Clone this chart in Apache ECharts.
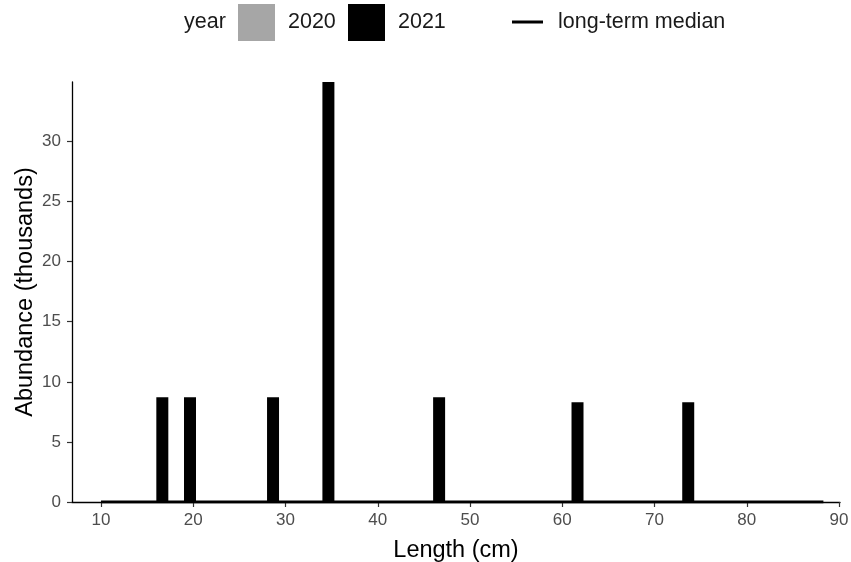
<!DOCTYPE html>
<html>
<head>
<meta charset="utf-8">
<script src="https://cdn.jsdelivr.net/npm/echarts@6/dist/echarts.min.js"></script>
<style>html,body{margin:0;padding:0;background:#fff;}#c{width:851px;height:562px;}</style>
</head>
<body>
<div id="c"></div>
<script>
// Data
const lengths2021 = [16, 19, 28, 34, 46, 61, 73];
const abundance2021 = [8.72, 8.72, 8.72, 34.95, 8.72, 8.30, 8.30];
const medianLengths = [10, 88.3];
const medianValues = [0, 0];
const xTicks = [10, 20, 30, 40, 50, 60, 70, 80, 90];
const yTicks = [0, 5, 10, 15, 20, 25, 30];

const BAR_W = 1.3;
const FONT = '"Liberation Sans", Arial, sans-serif';

const chart = echarts.init(document.getElementById('c'), null, {renderer: 'canvas'});
const barData = lengths2021.map((l, i) => [l, abundance2021[i]]);
const medData = medianLengths.map((l, i) => [l, medianValues[i]]);

chart.setOption({
  backgroundColor: '#fff',
  animation: false,
  grid: {left: 72, right: 11, top: 82, bottom: 60, containLabel: false, outerBoundsMode: 'none'},
  xAxis: {
    type: 'value', min: 6.86, max: 90.1,
    splitLine: {show: false},
    axisLine: {show: true, onZero: false, lineStyle: {color: '#000', width: 1.3}},
    axisTick: {show: true, length: 5, customValues: xTicks, lineStyle: {color: '#333', width: 1.2}},
    axisLabel: {customValues: xTicks, color: '#4d4d4d', fontSize: 17, fontFamily: FONT, margin: 10},
    name: 'Length (cm)', nameLocation: 'middle', nameGap: 37,
    nameTextStyle: {color: '#000', fontSize: 23.5, fontFamily: FONT}
  },
  yAxis: {
    type: 'value', min: 0, max: 34.95,
    splitLine: {show: false},
    axisLine: {show: true, lineStyle: {color: '#000', width: 1.3}},
    axisTick: {show: true, length: 5, customValues: yTicks, lineStyle: {color: '#333', width: 1.2}},
    axisLabel: {customValues: yTicks, color: '#4d4d4d', fontSize: 17, fontFamily: FONT, margin: 11},
    name: 'Abundance (thousands)', nameLocation: 'middle', nameGap: 34, nameMoveOverlap: false,
    nameTextStyle: {color: '#000', fontSize: 23.5, fontFamily: FONT}
  },
  series: [
    {
      name: '2021', type: 'custom', data: barData, clip: true,
      renderItem: function (params, api) {
        const x = api.value(0), y = api.value(1);
        const p0 = api.coord([x, y]);
        const p1 = api.coord([x + BAR_W, 0]);
        return {type: 'rect', shape: {x: p0[0], y: p0[1], width: p1[0] - p0[0], height: p1[1] - p0[1]}, style: {fill: '#000'}};
      },
      encode: {x: 0, y: 1}
    },
    {
      name: 'long-term median', type: 'line', data: medData, symbol: 'none', z: 5,
      lineStyle: {color: '#000', width: 3}
    }
  ],
  graphic: [
    {type: 'text', left: 184, top: 11, style: {text: 'year', fontSize: 21.5, fontFamily: FONT, fill: '#1a1a1a'}},
    {type: 'rect', shape: {x: 238, y: 4, width: 37, height: 37}, style: {fill: '#a6a6a6'}},
    {type: 'text', left: 288, top: 11, style: {text: '2020', fontSize: 21.5, fontFamily: FONT, fill: '#1a1a1a'}},
    {type: 'rect', shape: {x: 348, y: 4, width: 37, height: 37}, style: {fill: '#000'}},
    {type: 'text', left: 398, top: 11, style: {text: '2021', fontSize: 21.5, fontFamily: FONT, fill: '#1a1a1a'}},
    {type: 'line', shape: {x1: 512, y1: 22, x2: 543, y2: 22}, style: {stroke: '#000', lineWidth: 3}},
    {type: 'text', left: 558, top: 11, style: {text: 'long-term median', fontSize: 21.5, fontFamily: FONT, fill: '#1a1a1a'}}
  ]
});
</script>
</body>
</html>
